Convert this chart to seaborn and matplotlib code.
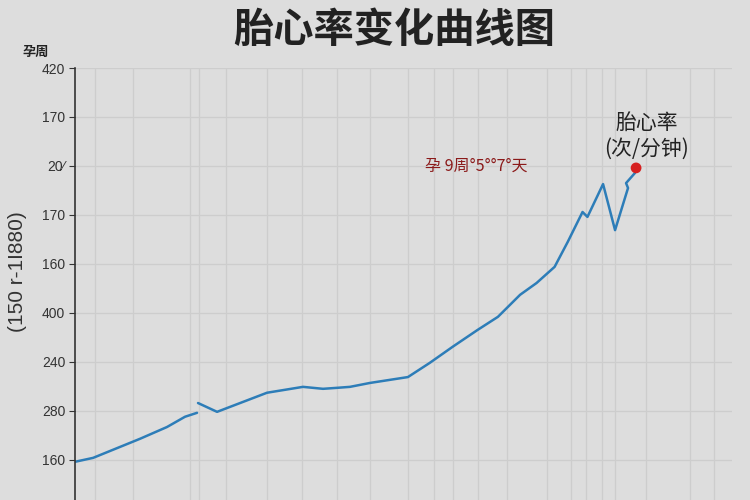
import matplotlib
matplotlib.use("Agg")
import matplotlib.pyplot as plt
import seaborn as sns
import pandas as pd

# ---- data ----
seg1_x = [0.0, 1.1, 3.96, 5.6, 6.7, 7.43]
seg1_y = [-0.04, 0.04, 0.43, 0.67, 0.88, 0.96]
seg2_x = [7.49, 8.65, 11.69, 13.88, 15.1, 15.95, 16.74, 17.96, 20.27, 21.6,
          23.0, 24.5, 25.75, 27.1, 28.1, 29.2, 30.0, 30.9, 31.2, 32.15,
          32.88, 33.67, 33.55, 34.1]
seg2_y = [1.16, 0.98, 1.37, 1.49, 1.45, 1.47, 1.49, 1.57, 1.69, 1.98,
          2.31, 2.65, 2.92, 3.37, 3.61, 3.94, 4.45, 5.06, 4.96, 5.63,
          4.69, 5.55, 5.65, 5.86]
dot_x = [34.16]
dot_y = [5.96]

ytick_pos = [0, 1, 2, 3, 4, 5, 6, 7, 8]
ytick_labels = ["160", "280", "240", "400", "160", "170", "20\u2044", "170", "420"]
xgrid_pos = [1.22, 3.53, 7.0, 7.55, 9.19, 11.69, 13.82, 15.95, 17.96, 20.27,
             21.86, 23.01, 24.54, 26.30, 28.74, 30.20, 31.11, 32.09, 32.88,
             34.76, 37.44, 38.90]

title_text = "胎心率变化曲线图"
xlabel_text = "孕周"
ylabel_text = "(150 r-1I880)"
note_text = "孕 9周°5°°7°天"
series_text = "胎心率\n(次/分钟)"

df = pd.DataFrame({
    "x": seg1_x + seg2_x,
    "y": seg1_y + seg2_y,
    "seg": ["a"] * len(seg1_x) + ["b"] * len(seg2_x),
})

sns.set_theme(style="whitegrid")
plt.rcParams["font.family"] = ["Noto Sans CJK SC", "DejaVu Sans"]

bg = "#dddddd"
fig = plt.figure(figsize=(7.5, 5), dpi=100, facecolor=bg)
ax = fig.add_axes([0.1, 0.0, 0.876, 0.864], facecolor=bg)

line_color = "#2d7db8"
sns.lineplot(data=df, x="x", y="y", hue="seg", palette=[line_color, line_color],
             sort=False, estimator=None, linewidth=1.8, legend=False, ax=ax)
sns.scatterplot(x=dot_x, y=dot_y, color="#d62020", s=60, edgecolor="none",
                zorder=5, ax=ax)

ax.set_xlim(0, 40)
ax.set_ylim(-0.82, 8.0)
ax.set_xticks(xgrid_pos)
ax.set_xticklabels([])
ax.set_yticks(ytick_pos)
ax.set_yticklabels(ytick_labels, fontsize=10, color="#333333",
                   family=["Liberation Sans", "DejaVu Sans"])
ax.tick_params(axis="x", length=0)
ax.tick_params(axis="y", length=4, width=0.8, color="#333333", pad=3, left=True)
ax.grid(True, color="#cdcdcd", linewidth=0.9)
ax.set_xlabel("")
ax.set_ylabel(ylabel_text, fontsize=15, color="#333333",
              family=["Liberation Sans", "DejaVu Sans"])
ax.yaxis.set_label_coords(-0.087, 0.528)
ax.yaxis.label.set_va("center")
for s in ["top", "right", "bottom"]:
    ax.spines[s].set_visible(False)
ax.spines["left"].set_color("#333333")
ax.spines["left"].set_linewidth(1.2)

fig.text(0.526, 0.94, title_text, fontsize=29, fontweight="bold",
         color="#222222", ha="center", va="center")
fig.text(0.048, 0.896, xlabel_text, fontsize=9.5, fontweight="bold",
         color="#222222", ha="center", va="center")
ax.text(24.4, 6.0, note_text, fontsize=11.5, color="#8b1a1a",
        ha="center", va="center")
ax.text(34.8, 6.62, series_text, fontsize=15, color="#222222",
        ha="center", va="center", linespacing=1.2)

fig.savefig("out.png", dpi=100, facecolor=bg)
